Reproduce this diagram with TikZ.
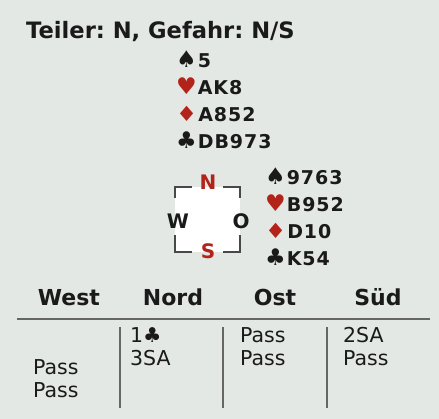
\documentclass[tikz,border=0pt]{standalone}
\usepackage{graphicx}
\usepackage{fontspec}
\setmainfont{DejaVu Sans}
\newfontfamily\handfont[LetterSpace=5]{DejaVu Sans}
\definecolor{bg}{HTML}{E3E8E5}
\definecolor{cardred}{HTML}{B3231A}
\definecolor{rule}{HTML}{666666}
\definecolor{ink}{HTML}{1A1A1A}
\newcommand{\spd}{{\fontsize{23}{23}\selectfont\bfseries ♠}}
\newcommand{\hrt}{{\fontsize{23}{23}\selectfont\bfseries\color{cardred}♥}}
\newcommand{\dia}{{\fontsize{21}{21}\selectfont\bfseries\color{cardred}\scalebox{1.12}[1]{♦}}}
\newcommand{\clb}{{\fontsize{23}{23}\selectfont\bfseries ♣}}
\newcommand{\hand}[2]{#1\hspace{1pt}{\handfont\bfseries #2}}
\begin{document}
\frenchspacing
\begin{tikzpicture}[x=1pt,y=-1pt,
  title/.style={anchor=base west,inner sep=0pt,font=\fontsize{22.6}{22.6}\selectfont\bfseries\frenchspacing,text=ink},
  handline/.style={anchor=base west,inner sep=0pt,font=\fontsize{19}{19}\selectfont,text=ink},
  compass/.style={anchor=center,inner sep=0pt,font=\fontsize{20}{20}\selectfont\bfseries,text=ink},
  header/.style={anchor=base,inner sep=0pt,font=\fontsize{22}{22}\selectfont\bfseries,text=ink},
  bid/.style={anchor=base west,inner sep=0pt,font=\fontsize{20.5}{20.5}\selectfont,text=ink},
  rulel/.style={draw=rule,line width=2.2pt},
  bracket/.style={draw=ink!80,line width=1.5pt}]
\fill[bg] (0,0) rectangle (439,419);
\useasboundingbox (0,0) rectangle (439,419);
% title
\node[title] (t) at (26,39) {Teiler: N, Gefahr: N/S};
% north hand
\node[handline] (n1) at (176,68) {\hand{\spd}{5}};
\node[handline] (n2) at (176,95) {\hand{\hrt}{AK8}};
\node[handline] (n3) at (176,122) {\hand{\dia}{A852}};
\node[handline] (n4) at (176,149) {\hand{\clb}{DB973}};
% east hand
\node[handline] (e1) at (265,185) {\hand{\spd}{9763}};
\node[handline] (e2) at (265,212) {\hand{\hrt}{B952}};
\node[handline] (e3) at (265,239) {\hand{\dia}{D10}};
\node[handline] (e4) at (265,266) {\hand{\clb}{K54}};
% compass
\fill[white] (175,187) rectangle (240,252);
\draw[bracket] (192,187) -- (175,187) -- (175,198);
\draw[bracket] (223,187) -- (240,187) -- (240,198);
\draw[bracket] (192,252) -- (175,252) -- (175,235);
\draw[bracket] (223,252) -- (240,252) -- (240,235);
\node[compass,text=cardred] (cn) at (208,182) {N};
\node[compass,text=cardred] (cs) at (208,251) {S};
\node[compass] (cw) at (178,221) {W};
\node[compass] (co) at (241,221) {O};
% table
\node[header] (hw) at (69,306) {West};
\node[header] (hn) at (173,306) {Nord};
\node[header] (ho) at (275,306) {Ost};
\node[header] (hs) at (378,306) {Süd};
\coordinate (la) at (17,319);
\coordinate (lb) at (430,319);
\draw[rulel] (la) -- (lb);
\coordinate (v1a) at (120,327); \coordinate (v1b) at (120,408);
\coordinate (v2a) at (223,327); \coordinate (v2b) at (223,408);
\coordinate (v3a) at (327,327); \coordinate (v3b) at (327,408);
\draw[rulel,line width=1.8pt] (v1a) -- (v1b);
\draw[rulel,line width=1.8pt] (v2a) -- (v2b);
\draw[rulel,line width=1.8pt] (v3a) -- (v3b);
\node[bid] (w1) at (33,375) {Pass};
\node[bid] (w2) at (33,398) {Pass};
\node[bid] (nb1) at (130,343) {1{\bfseries ♣}};
\node[bid] (nb2) at (130,366) {3SA};
\node[bid] (ob1) at (240,343) {Pass};
\node[bid] (ob2) at (240,366) {Pass};
\node[bid] (sb1) at (343,343) {2SA};
\node[bid] (sb2) at (343,366) {Pass};
\end{tikzpicture}
\end{document}
